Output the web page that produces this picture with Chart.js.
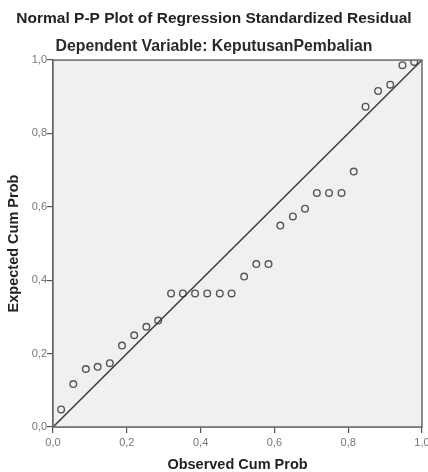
<!DOCTYPE html>
<html>
<head>
<meta charset="utf-8">
<script src="https://cdn.jsdelivr.net/npm/chart.js@4"></script>
<style>
  html, body { margin: 0; padding: 0; background: #fff; }
  #wrap { width: 428px; height: 472px; }
</style>
</head>
<body>
<div id="wrap"><canvas id="ppChart" width="428" height="472"></canvas></div>
<script>
// Observed vs expected cumulative probability
const observedProb = [0.022, 0.055, 0.089, 0.121, 0.154, 0.187, 0.220, 0.253, 0.285, 0.320,
  0.352, 0.385, 0.418, 0.452, 0.484, 0.518, 0.551, 0.584, 0.616, 0.650,
  0.683, 0.715, 0.748, 0.782, 0.815, 0.847, 0.881, 0.914, 0.947, 0.979];
const expectedProb = [0.048, 0.117, 0.158, 0.164, 0.174, 0.222, 0.250, 0.273, 0.290, 0.364,
  0.364, 0.364, 0.364, 0.364, 0.364, 0.410, 0.444, 0.444, 0.549, 0.574,
  0.595, 0.638, 0.638, 0.638, 0.696, 0.873, 0.916, 0.933, 0.986, 0.995];
const refLine = [0, 1];
const tickValues = [0, 0.2, 0.4, 0.6, 0.8, 1.0];

const points = observedProb.map((x, i) => ({ x: x, y: expectedProb[i] }));

// grey plot background + frame, like SPSS
const plotFrame = {
  id: "plotFrame",
  beforeDatasetsDraw(chart) {
    const a = chart.chartArea;
    const ctx = chart.ctx;
    ctx.save();
    ctx.fillStyle = "#f0f0f0";
    ctx.fillRect(a.left, a.top, a.right - a.left, a.bottom - a.top);
    ctx.restore();
  },
  afterDraw(chart) {
    const a = chart.chartArea;
    const ctx = chart.ctx;
    ctx.save();
    ctx.strokeStyle = "#6a6a6a";
    ctx.lineWidth = 1.5;
    ctx.strokeRect(a.left, a.top, a.right - a.left, a.bottom - a.top);
    ctx.restore();
  }
};

const fmt = (v) => v.toFixed(1).replace(".", ",");
const tickFont = { family: "Liberation Sans", size: 11 };
const axisTitleFont = { family: "Liberation Sans", size: 14.5, weight: "bold" };

const ctx = document.getElementById("ppChart").getContext("2d");
new Chart(ctx, {
  type: "scatter",
  data: {
    datasets: [
      {
        type: "line",
        data: refLine.map((v) => ({ x: v, y: v })),
        borderColor: "#3a3a3a",
        borderWidth: 1.5,
        pointRadius: 0,
        fill: false,
      },
      {
        data: points,
        pointStyle: "circle",
        pointRadius: 3.3,
        backgroundColor: "rgba(0,0,0,0)",
        borderColor: "#555",
        borderWidth: 1.4,
      },
    ],
  },
  options: {
    responsive: false,
    animation: false,
    layout: { padding: { left: 0, right: 0, top: 0, bottom: 0 } },
    plugins: {
      legend: { display: false },
      tooltip: { enabled: false },
      title: {
        display: true,
        text: "Normal P-P Plot of Regression Standardized Residual",
        color: "#222",
        font: { family: "Liberation Sans", size: 15.5, weight: "bold" },
        padding: { top: 9, bottom: 10 },
      },
      subtitle: {
        display: true,
        text: "Dependent Variable: KeputusanPembalian",
        color: "#2a2a2a",
        font: { family: "Liberation Sans", size: 15.8, weight: "bold" },
        padding: { top: 0, bottom: 3.5 },
      },
    },
    scales: {
      x: {
        type: "linear",
        min: 0,
        max: 1,
        afterBuildTicks: (s) => { s.ticks = tickValues.map((v) => ({ value: v })); },
        afterFit: (s) => { s.height = 45; s.paddingLeft = 0; s.paddingRight = 6; },
        ticks: { callback: fmt, color: "#777", font: tickFont, padding: 3, maxRotation: 0 },
        grid: { drawOnChartArea: false, tickLength: 6, color: "#555", lineWidth: 1.2 },
        border: { color: "#555", width: 1.5 },
        title: { display: true, text: "Observed Cum Prob", color: "#222", font: axisTitleFont, padding: { top: 0, bottom: -2 } },
      },
      y: {
        type: "linear",
        min: 0,
        max: 1,
        afterBuildTicks: (s) => { s.ticks = tickValues.map((v) => ({ value: v })); },
        afterFit: (s) => { s.width = 53; s.paddingTop = 0; s.paddingBottom = 0; },
        ticks: { callback: fmt, color: "#777", font: tickFont, padding: 0 },
        grid: { drawOnChartArea: false, tickLength: 6, color: "#555", lineWidth: 1.2 },
        border: { color: "#555", width: 1.5 },
        title: { display: true, text: "Expected Cum Prob", color: "#222", font: axisTitleFont, padding: { top: 5, bottom: 0 } },
      },
    },
  },
  plugins: [plotFrame],
});
</script>
</body>
</html>
